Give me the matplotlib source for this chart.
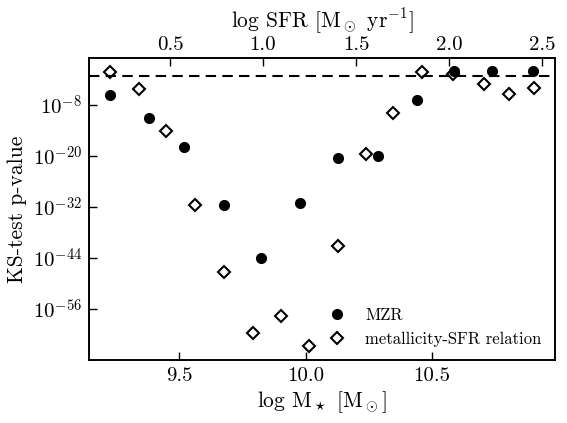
import numpy as np
import matplotlib
matplotlib.use('Agg')
import matplotlib.pyplot as plt

plt.rcParams['font.family'] = 'serif'
plt.rcParams['font.serif'] = ['cmr10']
plt.rcParams['mathtext.fontset'] = 'cm'
plt.rcParams['axes.formatter.use_mathtext'] = True

# MZR: KS-test p-values in bins of stellar mass (log M*)
mass_bins = [9.227, 9.381, 9.520, 9.676, 9.823, 9.979, 10.130, 10.287, 10.442, 10.588, 10.740, 10.903]
mzr_logp = [-5.8, -11.0, -17.9, -31.6, -44.1, -31.0, -20.5, -20.0, -6.8, -0.05, -0.15, -0.05]

# metallicity-SFR relation: p-values in bins of log SFR
sfr_bins = [0.180, 0.336, 0.481, 0.635, 0.789, 0.944, 1.096, 1.248, 1.401, 1.553, 1.700, 1.854, 2.019, 2.187, 2.322, 2.458]
msfr_logp = [-0.25, -4.3, -14.1, -31.5, -47.3, -61.6, -57.7, -64.6, -41.2, -19.5, -9.9, -0.25, -0.8, -3.1, -5.5, -4.1]

p_threshold = 0.05

fig = plt.figure(figsize=(5.67, 4.23), dpi=100)
ax = fig.add_axes([0.157, 0.149, 0.822, 0.714])
ax2 = ax.twiny()

# diamonds against the top (SFR) axis
ax2.plot(sfr_bins, 10.0 ** np.array(msfr_logp), ls='none', marker='D', ms=6.5,
         mfc='white', mec='black', mew=1.5)
ax2.set_xlim(0.065, 2.57)
ax2.set_xticks([0.5, 1.0, 1.5, 2.0, 2.5])
ax2.set_xticklabels(['0.5', '1.0', '1.5', '2.0', '2.5'])
ax2.set_xlabel(r'log SFR [M$_\odot$ yr$^{-1}$]', fontsize=15.5, labelpad=6)
ax2.tick_params(axis='x', direction='in', length=6, width=1, labelsize=15, pad=3)

# circles + threshold on the main axis, drawn above the twin
ax.set_zorder(ax2.get_zorder() + 1)
ax.patch.set_visible(False)
l1, = ax.plot(mass_bins, 10.0 ** np.array(mzr_logp), ls='none', marker='o', ms=7,
              mfc='black', mec='black', label='MZR')
ax.axhline(p_threshold, color='black', ls='--', lw=1.5, dashes=(5, 3))
l2, = ax.plot([], [], ls='none', marker='D', ms=6.5, mfc='white', mec='black',
              mew=1.5, label='metallicity-SFR relation')

ax.set_yscale('log')
ax.set_ylim(1e-68, 1e3)
ax.set_xlim(9.142, 10.989)
yt = [1e-56, 1e-44, 1e-32, 1e-20, 1e-8]
ax.set_yticks(yt)
ax.set_yticklabels([r'$10^{-56}$', r'$10^{-44}$', r'$10^{-32}$', r'$10^{-20}$', r'$10^{-8}$'])
ax.yaxis.set_minor_locator(matplotlib.ticker.NullLocator())
ax.set_xticks([9.5, 10.0, 10.5])
ax.set_xticklabels(['9.5', '10.0', '10.5'])
ax.tick_params(axis='both', direction='in', length=6, width=1, labelsize=15, pad=5)
ax.set_xlabel(r'log M$_\star$ [M$_\odot$]', fontsize=15.5, labelpad=3)
ax.set_ylabel('KS-test p-value', fontsize=15.5)

for a in (ax, ax2):
    for s in a.spines.values():
        s.set_linewidth(1.2)

ax.legend(handles=[l1, l2], loc='lower right', frameon=False, fontsize=12,
          handlelength=1.6, handletextpad=0.9, borderaxespad=0.4)

fig.savefig('out.png', dpi=100)
